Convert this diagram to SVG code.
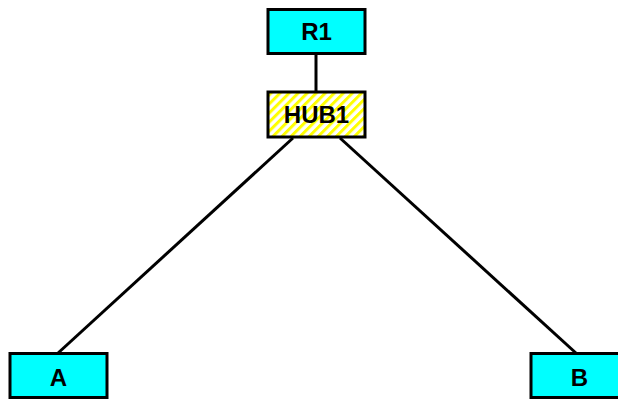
<svg xmlns="http://www.w3.org/2000/svg" width="618" height="400" viewBox="0 0 618 400">
<style>
.node rect{stroke:#000;stroke-width:3}
.cyan{fill:#00ffff}
.lbl{font-family:"Liberation Sans",Arial,sans-serif;font-weight:bold;font-size:24px;fill:#000;text-anchor:middle}
.edge{stroke:#000;stroke-width:3;fill:none}
</style>
<defs>
<pattern id="hatch" patternUnits="userSpaceOnUse" width="6.4" height="6.4" patternTransform="rotate(45)">
<rect width="6.4" height="6.4" fill="#fff"/>
<rect width="3" height="6.4" fill="#ffff00"/>
</pattern>
</defs>
<rect width="618" height="400" fill="#fff"/>
<g id="connectors">
<line class="edge" x1="316" y1="54" x2="316" y2="92"/>
<line class="edge" x1="293" y1="138" x2="57" y2="354"/>
<line class="edge" x1="340" y1="138" x2="577" y2="354"/>
</g>
<g id="R1" class="node"><rect class="cyan" x="268" y="9.5" width="97" height="44"/><text class="lbl" x="316.5" y="39.5">R1</text></g>
<g id="HUB1" class="node"><rect fill="url(#hatch)" x="268" y="92" width="97" height="45"/><text class="lbl" x="316.5" y="123">HUB1</text></g>
<g id="A" class="node"><rect class="cyan" x="10" y="353.5" width="97" height="44"/><text class="lbl" x="58.5" y="386">A</text></g>
<g id="B" class="node"><rect class="cyan" x="531" y="353.5" width="97" height="44"/><text class="lbl" x="579.5" y="386">B</text></g>
</svg>
